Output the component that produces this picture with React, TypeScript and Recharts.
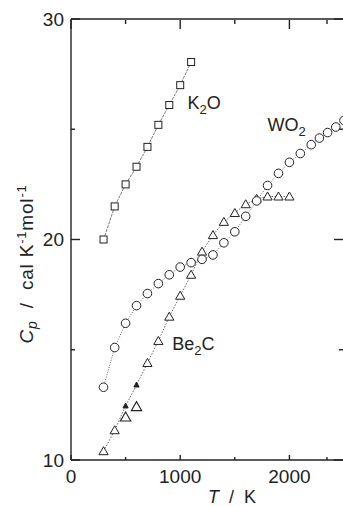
import React from "react";
import { ComposedChart, Scatter, XAxis, YAxis, ReferenceDot, ReferenceLine } from "recharts";

// K2O (squares)
const k2oT = [298, 400, 500, 600, 700, 800, 900, 1000, 1100];
const k2oCp = [20.0, 21.5, 22.5, 23.3, 24.2, 25.2, 26.1, 27.0, 28.05];

// WO2 (circles)
const wo2T = [298, 400, 500, 600, 700, 800, 900, 1000, 1100, 1200, 1300, 1400, 1500, 1600, 1700, 1800, 1900, 2000, 2100, 2200, 2275, 2350, 2425, 2500];
const wo2Cp = [13.3, 15.1, 16.2, 17.0, 17.55, 18.0, 18.4, 18.75, 18.95, 19.1, 19.3, 19.85, 20.35, 21.05, 21.75, 22.45, 23.0, 23.5, 23.9, 24.3, 24.6, 24.85, 25.1, 25.4];

// Be2C (triangles), two of the points are drawn filled
const be2cT = [298, 400, 500, 600, 700, 800, 900, 1000, 1100, 1200, 1300, 1400, 1500, 1600, 1700, 1800, 1900, 2000];
const be2cCp = [10.4, 11.35, 12.45, 13.4, 14.4, 15.4, 16.5, 17.45, 18.4, 19.45, 20.2, 20.8, 21.2, 21.6, 21.85, 21.95, 21.95, 21.95];
const be2cFilled = [false, false, true, true, false, false, false, false, false, false, false, false, false, false, false, false, false, false];
// off-line open triangles
const be2cExtraT = [500, 600];
const be2cExtraCp = [11.95, 12.42];

const xTicks = [0, 500, 1000, 1500, 2000, 2500];
const yTicks = [10, 15, 20, 25, 30];

const k2o = k2oT.map((T, i) => ({ T, cp: k2oCp[i] }));
const wo2 = wo2T.map((T, i) => ({ T, cp: wo2Cp[i] }));
const be2c = be2cT.map((T, i) => ({ T, cp: be2cCp[i], filled: be2cFilled[i] }));
const be2cExtra = be2cExtraT.map((T, i) => ({ T, cp: be2cExtraCp[i] }));

const W = 343;
const H = 506;
const LEFT = 71;
const TOP = 20;
const BOTTOM = 460;
const RIGHT = 343;
const INK = "#222";
const FONT = "'Liberation Sans', Arial, sans-serif";
const NB = "\u00a0";

const square = (p: any) => (
  <rect x={p.cx - 3.5} y={p.cy - 3.5} width={7} height={7} fill="#fff" stroke={INK} strokeWidth={1} />
);
const circle = (p: any) => <circle cx={p.cx} cy={p.cy} r={4.3} fill="#fff" stroke={INK} strokeWidth={1} />;
const triangle = (p: any) => {
  const filled = p.filled ?? p.payload?.filled;
  if (filled) {
    return <polygon points={`${p.cx},${p.cy - 3} ${p.cx - 2.6},${p.cy + 2} ${p.cx + 2.6},${p.cy + 2}`} fill={INK} stroke={INK} />;
  }
  return (
    <polygon points={`${p.cx},${p.cy - 4.5} ${p.cx - 4.6},${p.cy + 3.5} ${p.cx + 4.6},${p.cy + 3.5}`} fill="#fff" stroke={INK} strokeWidth={1} />
  );
};
const bigTriangle = (p: any) => (
  <polygon points={`${p.cx},${p.cy - 5} ${p.cx - 5.2},${p.cy + 4} ${p.cx + 5.2},${p.cy + 4}`} fill="#fff" stroke={INK} strokeWidth={1.1} />
);

// left ticks point inward, and the same tick is mirrored on the right edge
const leftTick = (p: any) => {
  const v = p.payload.value;
  const major = v % 10 === 0;
  const len = major ? 9 : 4;
  return (
    <g>
      <rect x={LEFT} y={p.y - 0.7} width={len} height={1.4} fill={INK} />
      <rect x={RIGHT - len} y={p.y - 0.7} width={len} height={1.4} fill={INK} />
      {major && (
        <text x={LEFT - 7} y={p.y} dy="0.36em" textAnchor="end" fontSize={19} fontFamily={FONT} fill={INK}>
          {v}
        </text>
      )}
    </g>
  );
};
// bottom ticks point up, top ticks (longer) point down
const bottomTick = (p: any) => {
  const v = p.payload.value;
  const major = v % 1000 === 0;
  const lenB = major ? 5 : 3;
  const lenT = major ? 9 : 4;
  return (
    <g>
      <rect x={p.x - 0.7} y={BOTTOM - lenB} width={1.4} height={lenB} fill={INK} />
      <rect x={p.x - 0.7} y={TOP} width={1.4} height={lenT} fill={INK} />
      {major && (
        <text x={p.x} y={BOTTOM + 23} textAnchor="middle" fontSize={19} fontFamily={FONT} fill={INK}>
          {v}
        </text>
      )}
    </g>
  );
};

const compoundLabel = (base: string, sub: string, tail: string) => (p: any) => (
  <text x={p.cx} y={p.cy} fontSize={18} fontFamily={FONT} fill={INK}>
    {base}
    <tspan fontSize={13} dy={5}>{sub}</tspan>
    <tspan dy={-5}>{tail}</tspan>
  </text>
);

const yTitle = () => (
  <text transform={`translate(33, 264) rotate(-90)`} textAnchor="middle" fontSize={19} letterSpacing={0.8} fontFamily={FONT} fill={INK}>
    <tspan fontStyle="italic">C</tspan>
    <tspan fontSize={14} fontStyle="italic" dy={4}>p</tspan>
    <tspan dy={-4}>{`${NB}${NB}/${NB}${NB}cal${NB}K`}</tspan>
    <tspan fontSize={13} dy={-7}>-1</tspan>
    <tspan dy={7}>mol</tspan>
    <tspan fontSize={13} dy={-7}>-1</tspan>
  </text>
);
const xTitle = () => (
  <text x={232} y={503} textAnchor="middle" fontSize={18} fontFamily={FONT} fill={INK}>
    <tspan fontStyle="italic">T</tspan>
    <tspan>{`${NB}${NB}/${NB}${NB}K`}</tspan>
  </text>
);

export default function App() {
  return (
    <div style={{ position: "absolute", left: 0, top: 0, width: W, height: H, background: "#fff" }}>
      <ComposedChart width={W} height={H} margin={{ top: TOP - 1, right: W - RIGHT - 1, bottom: H - BOTTOM - 1, left: LEFT - 1 }}>
        <XAxis
          type="number"
          dataKey="T"
          domain={[0, 2500]}
          ticks={xTicks}
          height={1}
          tickSize={0}
          tickLine={false}
          tick={bottomTick}
          axisLine={{ stroke: INK, strokeWidth: 1.4 }}
          label={xTitle}
        />
        <YAxis
          type="number"
          dataKey="cp"
          domain={[10, 30]}
          ticks={yTicks}
          width={1}
          tickSize={0}
          tickLine={false}
          tick={leftTick}
          axisLine={{ stroke: INK, strokeWidth: 1.4 }}
          label={yTitle}
        />
        <ReferenceLine y={30} stroke={INK} strokeWidth={1.4} />
        <Scatter
          data={k2o}
          dataKey="cp"
          line={{ stroke: "#555", strokeWidth: 0.8, strokeDasharray: "3 1" }}
          lineType="joint"
          shape={square}
          isAnimationActive={false}
        />
        <Scatter
          data={be2c}
          dataKey="cp"
          line={{ stroke: "#555", strokeWidth: 0.9, strokeDasharray: "1.5 1.5" }}
          lineType="joint"
          shape={triangle}
          isAnimationActive={false}
        />
        <Scatter data={be2cExtra} dataKey="cp" shape={bigTriangle} isAnimationActive={false} />
        <Scatter
          data={wo2}
          dataKey="cp"
          line={{ stroke: "#555", strokeWidth: 0.9, strokeDasharray: "1 1.5" }}
          lineType="joint"
          shape={circle}
          isAnimationActive={false}
        />
        <ReferenceDot x={1066} y={25.9} r={0} ifOverflow="visible" shape={compoundLabel("K", "2", "O")} />
        <ReferenceDot x={1800} y={24.9} r={0} ifOverflow="visible" shape={compoundLabel("WO", "2", "")} />
        <ReferenceDot x={928} y={15.0} r={0} ifOverflow="visible" shape={compoundLabel("Be", "2", "C")} />
      </ComposedChart>
    </div>
  );
}
